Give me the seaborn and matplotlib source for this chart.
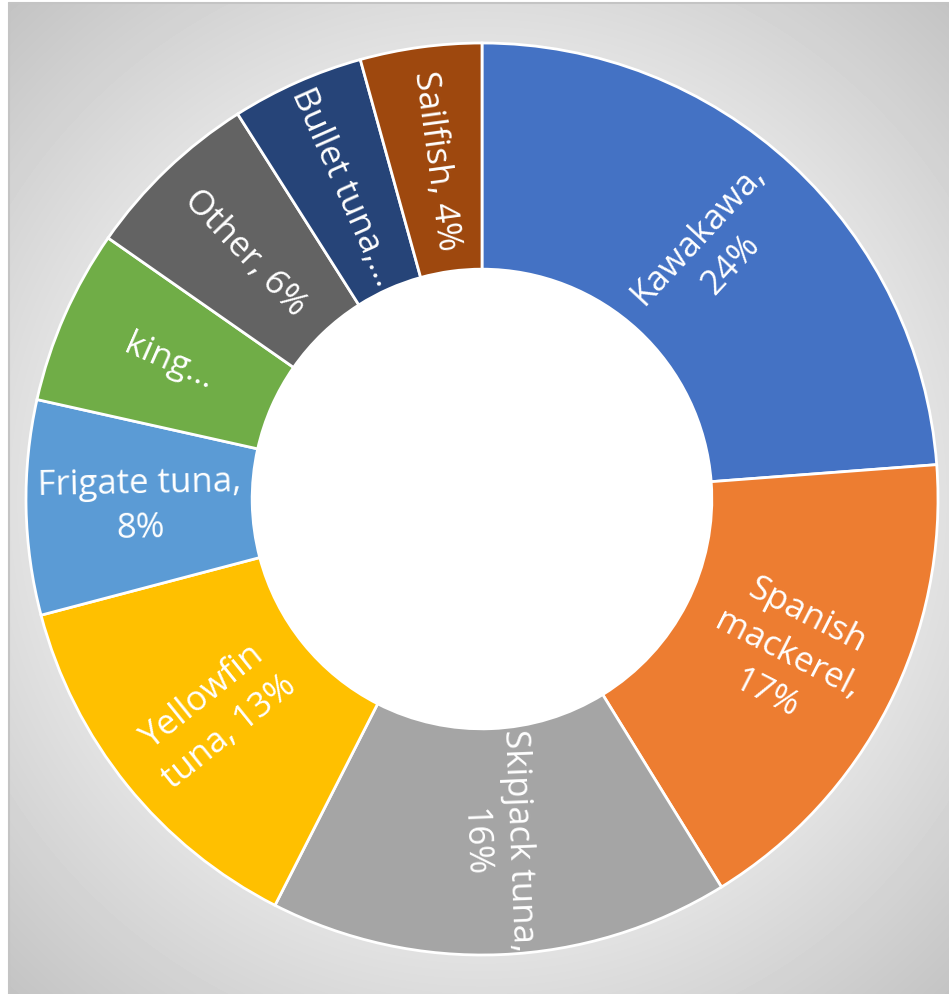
import numpy as np
import matplotlib
matplotlib.use("Agg")
import matplotlib.pyplot as plt
import seaborn as sns

# ---- data ----
categories = ["Kawakawa", "Spanish mackerel", "Skipjack tuna", "Yellowfin tuna",
              "Frigate tuna", "king...", "Other", "Bullet tuna", "Sailfish"]
values = [23.8, 17.4, 16.3, 13.4, 7.6, 6.2, 6.3, 4.7, 4.3]
display_labels = ["Kawakawa,\n24%", "Spanish\nmackerel,\n17%", "Skipjack tuna,\n16%",
                  "Yellowfin\ntuna, 13%", "Frigate tuna,\n8%", "king...",
                  "Other, 6%", "Bullet tuna,...", "Sailfish, 4%"]
colors = ["#4472C4", "#ED7D31", "#A5A5A5", "#FFC000", "#5B9BD5",
          "#70AD47", "#636363", "#264478", "#9E480E"]

sns.set_style("white")
plt.rcParams['font.family'] = ['Open Sans', 'DejaVu Sans']

W, H = 949, 995
fig = plt.figure(figsize=(W / 100, H / 100), dpi=100)
fig.patch.set_facecolor("white")

# background radial gradient area
bx0, by0 = 9, 4  # top-left of chart area in px
bg = fig.add_axes([bx0 / W, 0, (W - bx0) / W, (H - by0) / H])
cx, cy = 482, 500
xs = np.arange(bx0, W) + 0.5
ys = np.arange(by0, H) + 0.5
X, Y = np.meshgrid(xs, ys)
D = np.sqrt((X - cx) ** 2 + (Y - cy) ** 2)
val = np.clip(285 - 0.131 * D, 0, 255) / 255.0
bg.imshow(val, cmap="gray", vmin=0, vmax=1, aspect="auto", interpolation="bilinear")
bg.set_axis_off()
fig.add_artist(plt.Line2D([bx0 / W, bx0 / W], [0, 1 - by0 / H], color="#c4c4c4", lw=1.5))
fig.add_artist(plt.Line2D([bx0 / W, 1], [1 - by0 / H, 1 - by0 / H], color="#c4c4c4", lw=1.5))

# donut
R = 456
ax = fig.add_axes([(cx - R) / W, (H - cy - R) / H, 2 * R / W, 2 * R / H])
ax.set_facecolor("none")
wedges, _ = ax.pie(values, colors=colors, startangle=90, counterclock=False,
                   radius=1.0,
                   wedgeprops=dict(width=0.496, edgecolor="white", linewidth=2))
ax.add_patch(plt.Circle((0, 0), 0.504, color="white", zorder=0.5))
ax.set_xlim(-1, 1)
ax.set_ylim(-1, 1)
ax.set_aspect("equal")
ax.set_axis_off()

total = float(sum(values))
cum = 0.0
for v, lab in zip(values, display_labels):
    mid = cum + v / 2.0
    theta = 90 - 360 * mid / total
    rot = ((theta + 90) % 180) - 90
    r = 0.75
    x = r * np.cos(np.radians(theta))
    y = r * np.sin(np.radians(theta))
    ax.text(x, y, lab, ha="center", va="center", rotation=rot,
            rotation_mode="anchor", color="white", fontsize=25,
            linespacing=1.4, multialignment="center")
    cum += v

fig.savefig("out.png", dpi=100)
